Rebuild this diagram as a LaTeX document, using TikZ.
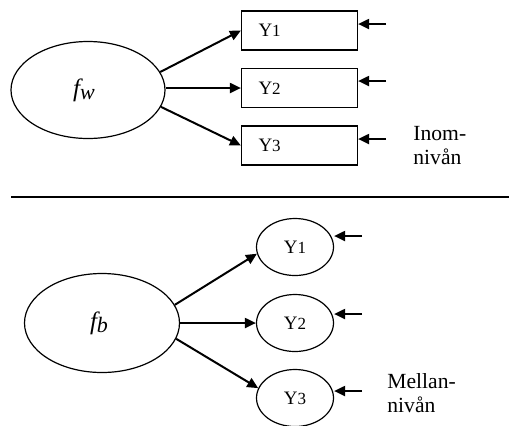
\documentclass[tikz,border=0pt]{standalone}
\usepackage{fontspec}
\setmainfont{Liberation Serif}
\usetikzlibrary{arrows.meta,shapes.geometric,positioning}

\begin{document}
\begin{tikzpicture}[x=0.5pt, y=-0.5pt, >={Triangle[length=5.5pt,width=5pt]},
    factor/.style={draw, ellipse, line width=0.6pt, inner sep=0pt,
        minimum width=77pt, minimum height=48.5pt,
        font=\fontsize{12.5}{14}\selectfont\itshape},
    obsbox/.style={draw, rectangle, line width=0.6pt, minimum height=19.5pt,
        text width=41pt, inner xsep=8.5pt, align=left,
        font=\fontsize{9.5}{10}\selectfont},
    obscirc/.style={draw, ellipse, line width=0.6pt, inner sep=0pt,
        minimum width=38.5pt, minimum height=28.5pt,
        font=\fontsize{9.5}{10}\selectfont},
    loading/.style={->, line width=1pt},
    resid/.style={->, line width=1pt},
    levellabel/.style={inner sep=0pt, align=left, font=\fontsize{10.8}{12.2}\selectfont}]

\useasboundingbox (0,0) rectangle (509,425);

% within level
\node[factor] (fw) at (88,90)
    {f\raisebox{-1.5pt}{\fontsize{11}{12}\selectfont w}\kern4pt};

\foreach \i/\y in {1/30.5, 2/88, 3/145.5}
    \node[obsbox] (yw\i) at (299.5,\y) {Y{\fontsize{8.5}{10}\selectfont\i}};

\draw[loading] (fw.14) -- (yw1.west);
\draw[loading] (fw.east |- yw2) -- (yw2.west);
\draw[loading] (fw.-13) -- (yw3.west);

\foreach \i/\y in {1/24, 2/81, 3/139} {
    \coordinate (ew\i) at (386,\y);
    \draw[resid] (ew\i) -- (yw\i.east |- ew\i);
}

\node[levellabel, anchor=north west] (inom) at (413,126) {Inom-\\nivån};

\draw[line width=0.7pt] (11,197) -- (509,197);

% between level
\node[factor, minimum width=77.5pt, minimum height=49.5pt] (fb) at (102,323)
    {f\raisebox{-1.5pt}{\fontsize{11}{12}\selectfont b}\kern3pt};

\foreach \i/\y in {1/247, 2/323, 3/398}
    \node[obscirc] (yb\i) at (295,\y) {Y{\fontsize{8.5}{10}\selectfont\i}};

\draw[loading] (fb.14) -- (yb1.190);
\draw[loading] (fb.east) -- (yb2.west);
\draw[loading] (fb.-12) -- (yb3.165);

\foreach \i/\y in {1/236, 2/314, 3/391} {
    \coordinate (eb\i) at (362,\y);
    \draw[resid] (eb\i) -- (yb\i.east |- eb\i);
}

\node[levellabel, anchor=north west] (mellan) at (387,373) {Mellan-\\nivån};

\end{tikzpicture}
\end{document}
